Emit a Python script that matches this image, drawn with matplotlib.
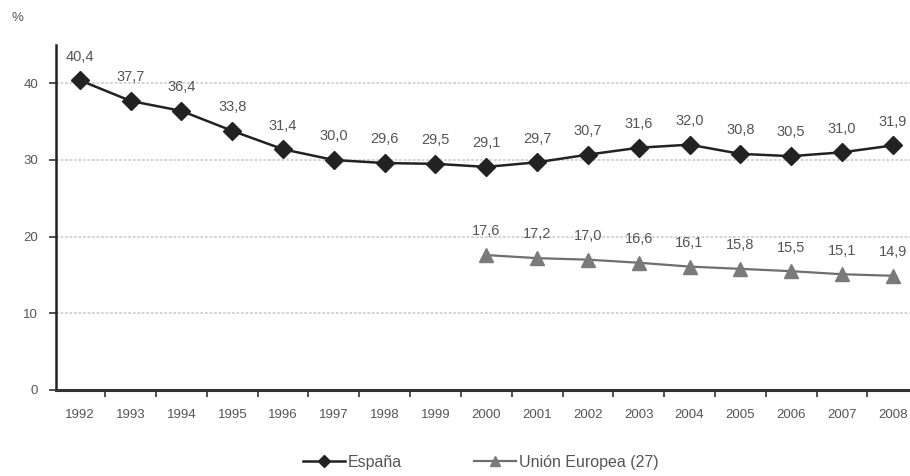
import matplotlib
matplotlib.use("Agg")
import matplotlib.pyplot as plt
from matplotlib.ticker import FixedLocator

plt.rcParams['font.family'] = ['Liberation Sans', 'DejaVu Sans']

years = [str(y) for y in range(1992, 2009)]
espana = [40.4, 37.7, 36.4, 33.8, 31.4, 30.0, 29.6, 29.5, 29.1, 29.7, 30.7, 31.6, 32.0, 30.8, 30.5, 31.0, 31.9]
ue_years = years[8:]
ue27 = [17.6, 17.2, 17.0, 16.6, 16.1, 15.8, 15.5, 15.1, 14.9]
yticks = [0, 10, 20, 30, 40]

txt = '#555555'

fig = plt.figure(figsize=(9.1, 4.76), dpi=100)
ax = fig.add_axes([56/910, 86/476, 1 - 56/910, (476 - 45 - 86)/476])

x_es = list(range(len(years)))
x_ue = [years.index(y) for y in ue_years]

for yv in yticks[1:]:
    ax.axhline(yv, color='#d0d0d0', lw=1.3, ls=(0, (1.5, 1)), zorder=0)

ax.plot(x_es, espana, color='#222222', lw=1.8, marker='D', ms=9,
        mfc='#222222', mec='#222222', label='España', zorder=3)
ax.plot(x_ue, ue27, color='#6e6e6e', lw=1.6, marker='^', ms=10,
        mfc='#7a7a7a', mec='#7a7a7a', label='Unión Europea (27)', zorder=3)

for xi, v in zip(x_es, espana):
    ax.annotate(f"{v:.1f}".replace('.', ','), (xi, v), xytext=(0, 12),
                textcoords='offset points', ha='center', va='bottom',
                fontsize=10.5, color=txt)
for xi, v in zip(x_ue, ue27):
    ax.annotate(f"{v:.1f}".replace('.', ','), (xi, v), xytext=(0, 12),
                textcoords='offset points', ha='center', va='bottom',
                fontsize=10.5, color=txt)

ax.set_xlim(-0.47, 16.34)
ax.set_ylim(0, 45)
ax.set_yticks(yticks)
ax.set_xticks(x_es)
ax.set_xticklabels(years)
ax.xaxis.set_minor_locator(FixedLocator([i - 0.5 for i in range(len(years) + 1)]))
ax.tick_params(axis='x', which='major', length=0, pad=14, labelsize=9.5, labelcolor=txt)
ax.tick_params(axis='x', which='minor', length=5, width=1.2, color='#333333', direction='out')
ax.tick_params(axis='y', length=5, width=1.2, color='#333333', labelsize=9.5, labelcolor=txt, pad=8)

for s in ['top', 'right']:
    ax.spines[s].set_visible(False)
ax.spines['left'].set_linewidth(1.8)
ax.spines['left'].set_color('#222222')
ax.spines['bottom'].set_linewidth(2.2)
ax.spines['bottom'].set_color('#333333')

fig.text(12/910, 1 - 18/476, '%', fontsize=9.5, color=txt, va='center')

fig.legend(loc='center', bbox_to_anchor=(481/910, 1 - 462/476), ncol=2, frameon=False,
           fontsize=11.5, labelcolor=txt, handlelength=2.6, columnspacing=4.5,
           markerscale=0.7, handletextpad=0.2)

fig.savefig('out.png', dpi=100)
